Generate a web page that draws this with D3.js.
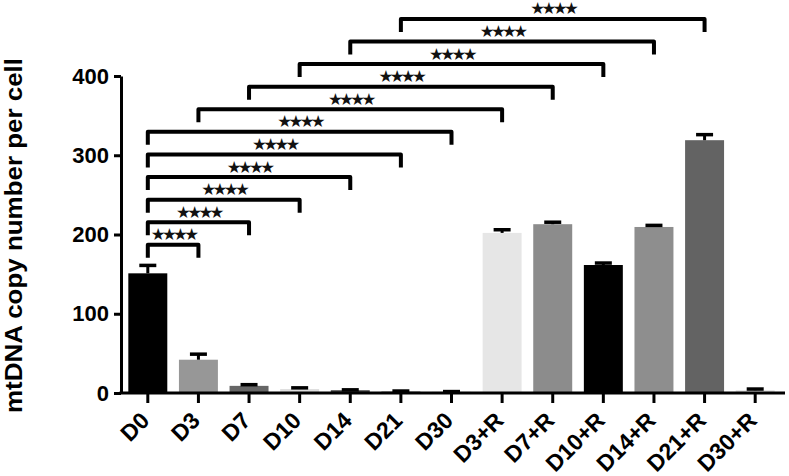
<!DOCTYPE html>
<html lang="en">
<head>
    <meta charset="UTF-8">
    <title>mtDNA copy number per cell</title>
    <script src="https://cdn.jsdelivr.net/npm/d3@7"></script>
    <style>
        html, body { margin: 0; padding: 0; background: #fff; }
        svg { display: block; font-family: "Liberation Sans", Arial, sans-serif; }
    </style>
</head>
<body>
<div id="chart"></div>
<script>
    const categories = ["D0", "D3", "D7", "D10", "D14", "D21", "D30", "D3+R", "D7+R", "D10+R", "D14+R", "D21+R", "D30+R"];
    const means = [151, 42, 9, 5, 3.5, 2, 1.5, 202, 213, 161.5, 209.5, 319, 3.5];
    const errors = [10, 7, 1.5, 1.5, 0.5, 0.5, 0.3, 4, 2.5, 2.5, 2, 7, 1.5];
    const barColors = ["#000000", "#979797", "#666666", "#dedede", "#444444", "#8a8a8a", "#cfcfcf",
        "#e6e6e6", "#8c8c8c", "#000000", "#8e8e8e", "#636363", "#e2e2e2"];
    const yTicks = [0, 100, 200, 300, 400];
    // significance comparisons, drawn bottom to top
    const comparisons = [
        ["D0", "D3"], ["D0", "D7"], ["D0", "D10"], ["D0", "D14"], ["D0", "D21"], ["D0", "D30"],
        ["D3", "D3+R"], ["D7", "D7+R"], ["D10", "D10+R"], ["D14", "D14+R"], ["D21", "D21+R"]
    ];
    const sigLabel = "★★★★";

    const width = 789, height = 476;
    const svg = d3.select("#chart").append("svg")
        .attr("width", width)
        .attr("height", height);

    const x = d3.scaleBand()
        .domain(categories)
        .range([122.5, 780.5])
        .paddingInner(0.23)
        .paddingOuter(0.115);

    const y = d3.scaleLinear()
        .domain([0, 400])
        .range([393, 76]);

    const data = categories.map((c, i) => ({ cat: c, mean: means[i], err: errors[i], color: barColors[i] }));

    // bars
    svg.selectAll("rect.bar")
        .data(data)
        .join("rect")
        .attr("class", "bar")
        .attr("x", d => x(d.cat))
        .attr("y", d => y(d.mean))
        .attr("width", x.bandwidth())
        .attr("height", d => y(0) - y(d.mean))
        .attr("fill", d => d.color);

    // error bars (upper only)
    const eb = svg.append("g").attr("stroke", "#000").attr("stroke-width", 3);
    const cx = d => x(d.cat) + x.bandwidth() / 2;
    eb.selectAll("line.stem")
        .data(data)
        .join("line")
        .attr("x1", cx).attr("x2", cx)
        .attr("y1", d => y(d.mean))
        .attr("y2", d => y(d.mean + d.err));
    eb.selectAll("line.cap")
        .data(data)
        .join("line")
        .attr("stroke-width", 3.5)
        .attr("x1", d => cx(d) - 8.5).attr("x2", d => cx(d) + 8.5)
        .attr("y1", d => y(d.mean + d.err))
        .attr("y2", d => y(d.mean + d.err));

    // y axis
    const yAxis = svg.append("g")
        .attr("transform", "translate(121,0)")
        .call(d3.axisLeft(y).tickValues(yTicks).tickSize(7).tickSizeOuter(0).tickPadding(5));
    yAxis.select(".domain").attr("stroke-width", 3);
    yAxis.selectAll(".tick line").attr("stroke-width", 3);
    yAxis.selectAll(".tick text")
        .attr("font-size", 22)
        .attr("font-weight", "bold")
        .attr("font-family", "Liberation Sans, Arial, sans-serif")
        .attr("fill", "#000");

    // x axis
    const xAxis = svg.append("g");
    xAxis.append("line")
        .attr("x1", 119.5).attr("x2", 785)
        .attr("y1", y(0)).attr("y2", y(0))
        .attr("stroke", "#000").attr("stroke-width", 3);
    xAxis.selectAll("line.tick")
        .data(categories)
        .join("line")
        .attr("x1", d => x(d) + x.bandwidth() / 2)
        .attr("x2", d => x(d) + x.bandwidth() / 2)
        .attr("y1", y(0)).attr("y2", y(0) + 10)
        .attr("stroke", "#000").attr("stroke-width", 3);
    xAxis.selectAll("text")
        .data(categories)
        .join("text")
        .attr("transform", d => `translate(${x(d) + x.bandwidth() / 2 + 3},${y(0) + 29}) rotate(-45)`)
        .attr("text-anchor", "end")
        .attr("font-size", 23)
        .attr("font-weight", "bold")
        .text(d => d);

    // y axis title
    svg.append("text")
        .attr("transform", "translate(22,235.5) rotate(-90)")
        .attr("text-anchor", "middle")
        .attr("font-size", 24)
        .attr("font-weight", "bold")
        .attr("textLength", 355)
        .attr("lengthAdjust", "spacingAndGlyphs")
        .text("mtDNA copy number per cell");

    // significance brackets
    const levelBase = 187, levelStep = 28.5, drop = 13;
    const br = svg.append("g");
    comparisons.forEach(([a, b], i) => {
        const ly = y(levelBase + i * levelStep);
        const xa = x(a) + x.bandwidth() / 2;
        const xb = x(b) + x.bandwidth() / 2;
        br.append("path")
            .attr("d", `M${xa},${ly + drop}V${ly}H${xb}V${ly + drop}`)
            .attr("fill", "none")
            .attr("stroke", "#000")
            .attr("stroke-width", 4)
            .attr("stroke-linejoin", "round");
        br.append("text")
            .attr("x", (xa + xb) / 2)
            .attr("y", ly - 4.5)
            .attr("text-anchor", "middle")
            .attr("font-family", "DejaVu Sans, sans-serif")
            .attr("font-size", 16.5)
            .attr("letter-spacing", -3.6)
            .attr("fill", "#111")
            .text(sigLabel);
    });
</script>
</body>
</html>
